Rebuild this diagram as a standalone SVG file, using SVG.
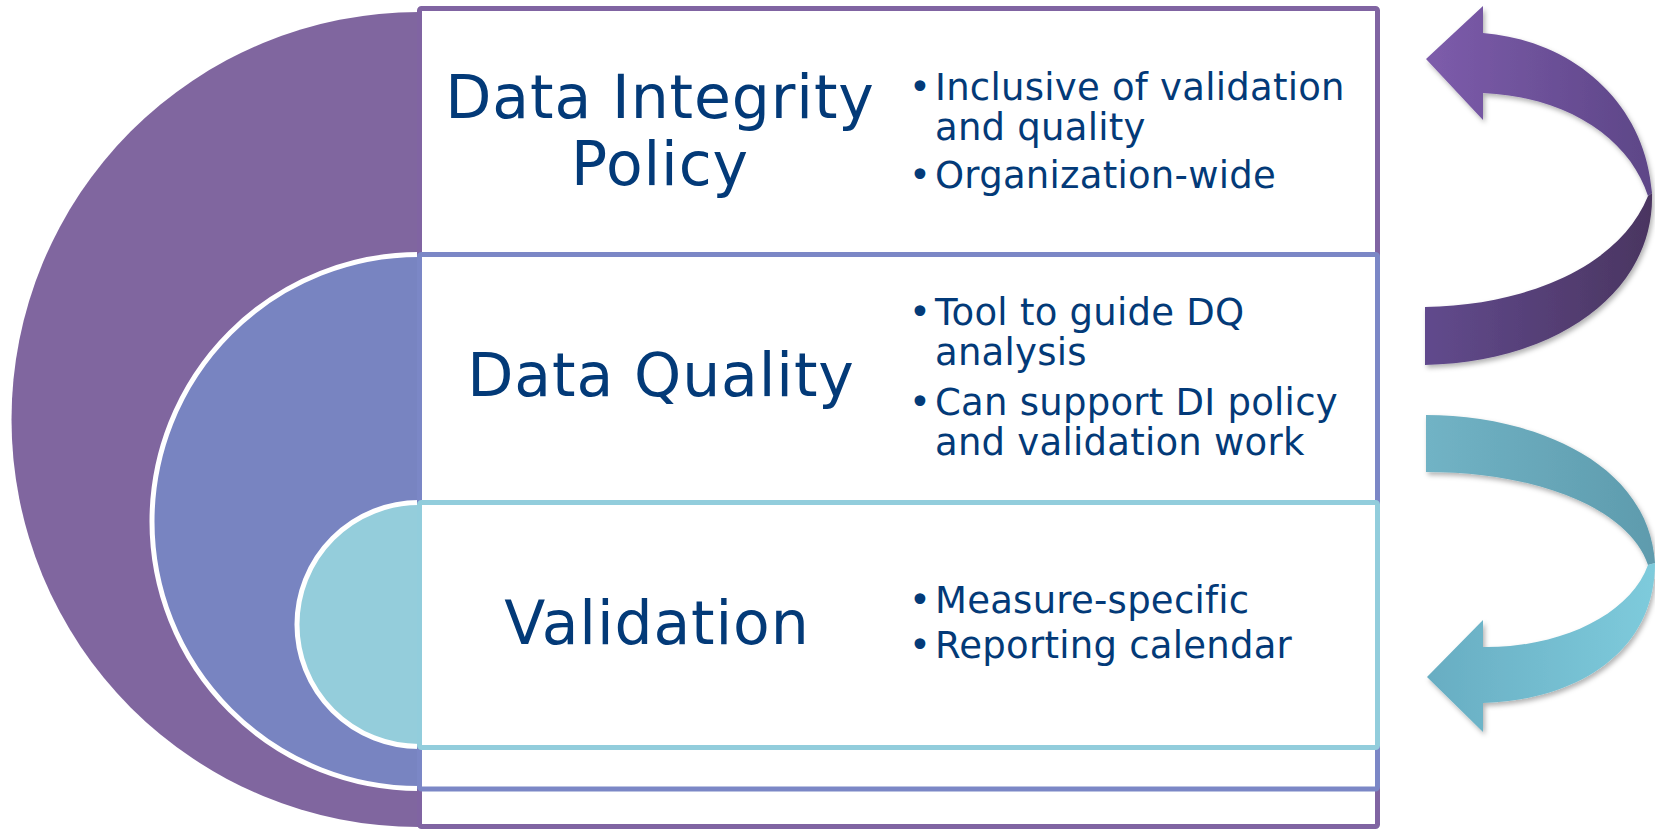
<svg xmlns="http://www.w3.org/2000/svg" width="1655" height="829" viewBox="0 0 1655 829">
<style>
.box{fill:#fff;stroke-width:5}
.ring{stroke:#fff;stroke-width:5}
.h{font-family:"DejaVu Sans",Verdana,sans-serif;font-size:60px;fill:#033a78;text-anchor:middle;letter-spacing:0.9px}
.b{font-family:"DejaVu Sans",Verdana,sans-serif;font-size:37px;fill:#033a78;letter-spacing:0.25px}
.dot{font-family:"DejaVu Sans",Verdana,sans-serif;font-size:37px;fill:#033a78;text-anchor:middle}
</style>
<defs>
<linearGradient id="pu" gradientUnits="userSpaceOnUse" x1="1426" y1="0" x2="1652" y2="0"><stop offset="0" stop-color="#7d5cab"/><stop offset="1" stop-color="#5d4687"/></linearGradient>
<linearGradient id="pl" gradientUnits="userSpaceOnUse" x1="1425" y1="0" x2="1655" y2="0"><stop offset="0" stop-color="#614a8d"/><stop offset="1" stop-color="#4a3560"/></linearGradient>
<linearGradient id="tu" gradientUnits="userSpaceOnUse" x1="1426" y1="0" x2="1655" y2="0"><stop offset="0" stop-color="#71b3c5"/><stop offset="1" stop-color="#5e9bad"/></linearGradient>
<linearGradient id="tl" gradientUnits="userSpaceOnUse" x1="1427" y1="0" x2="1655" y2="0"><stop offset="0" stop-color="#68adc2"/><stop offset="1" stop-color="#7ecbdc"/></linearGradient>
<filter id="sh" x="-10%" y="-10%" width="130%" height="130%"><feDropShadow dx="2" dy="3" stdDeviation="2.5" flood-color="#000" flood-opacity="0.3"/></filter>
</defs>

<g id="semicircles">
<path d="M419,12 A407.5,407.5 0 0 0 419,827 Z" fill="#80669f"/>
<path d="M419,254.5 A267,267 0 0 0 419,788.5" fill="#7884c1" class="ring"/>
<path d="M419,502.5 A122,122 0 0 0 419,746.5" fill="#94cddb" class="ring"/>
</g>

<g id="node-policy">
<rect class="box" x="419.5" y="8.5" width="958" height="818" rx="2" stroke="#8064a2"/>
<text class="h" x="660" y="118">Data Integrity</text>
<text class="h" x="660" y="185">Policy</text>
<text class="dot" x="920" y="100">•</text>
<text class="b" x="935" y="100">Inclusive of validation</text>
<text class="b" x="935" y="140">and quality</text>
<text class="dot" x="920" y="188">•</text>
<text class="b" x="935" y="188">Organization-wide</text>
</g>

<g id="node-quality">
<rect class="box" x="419.5" y="254.5" width="958" height="534.5" rx="2" stroke="#7b87c6"/>
<text class="h" x="661" y="396">Data Quality</text>
<text class="dot" x="920" y="325">•</text>
<text class="b" x="935" y="325">Tool to guide DQ</text>
<text class="b" x="935" y="365">analysis</text>
<text class="dot" x="920" y="415">•</text>
<text class="b" x="935" y="415">Can support DI policy</text>
<text class="b" x="935" y="455">and validation work</text>
</g>

<g id="node-validation">
<rect class="box" x="419.5" y="502.5" width="958" height="245" rx="2" stroke="#92cddc"/>
<text class="h" x="657" y="644">Validation</text>
<text class="dot" x="920" y="613">•</text>
<text class="b" x="935" y="613">Measure-specific</text>
<text class="dot" x="920" y="658">•</text>
<text class="b" x="935" y="658">Reporting calendar</text>
</g>

<g id="connectors" filter="url(#sh)">
<g id="arrow-up">
<path d="M1652,193 C1655,290 1560,362 1425,365 L1425,307 C1530,305 1620,265 1648,196 Z" fill="url(#pl)"/>
<path d="M1426,59 L1483,6 L1483,33 C1570,40 1645,100 1652,193 L1648,196 C1630,140 1570,97 1483,93 L1483,120 Z" fill="url(#pu)"/>
</g>
<g id="arrow-down">
<path d="M1426,415 C1530,415 1648,460 1655,563 L1648,565 C1630,510 1540,472 1426,472 Z" fill="url(#tu)"/>
<path d="M1655,563 C1655,650 1580,700 1483,703 L1483,732 L1427,677 L1483,620 L1483,647 C1560,648 1630,615 1648,565 Z" fill="url(#tl)"/>
</g>
</g>
</svg>
